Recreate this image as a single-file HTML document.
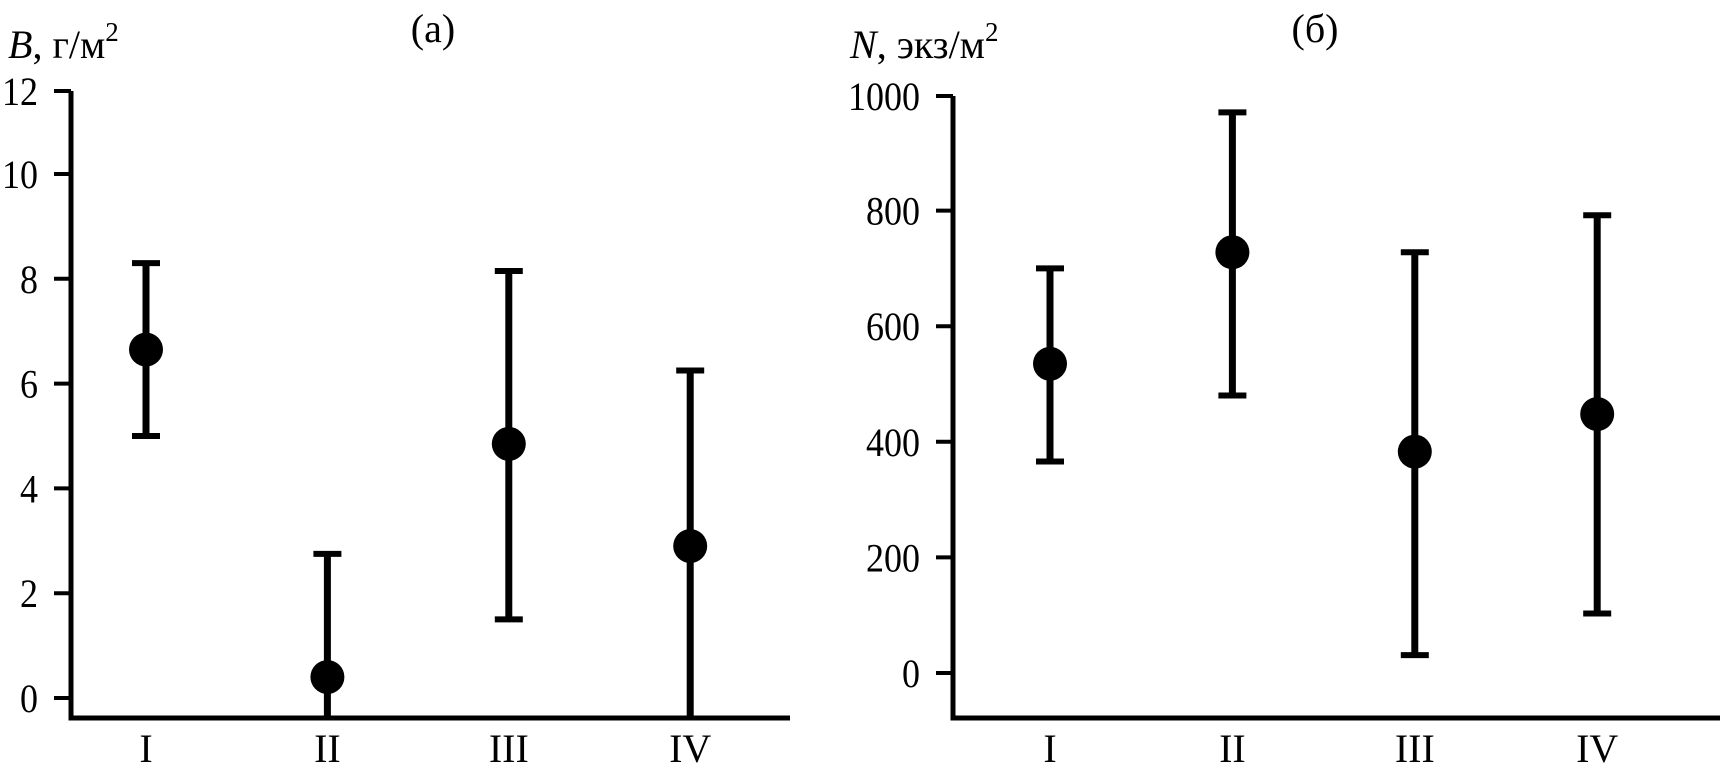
<!DOCTYPE html>
<html><head><meta charset="utf-8">
<style>
html,body{margin:0;padding:0;background:#fff;}
svg{display:block;font-family:"Liberation Serif","DejaVu Serif",serif;}
</style></head>
<body>
<svg id="chart" width="1720" height="776" viewBox="0 0 1720 776" xmlns="http://www.w3.org/2000/svg"></svg>
<script>
const categories = ["I","II","III","IV"];
const bMeans = [6.65, 0.4, 4.85, 2.9];
const bLow = [5.0, -0.4, 1.5, -0.4];
const bHigh = [8.3, 2.75, 8.15, 6.25];
const bTicks = [0, 2, 4, 6, 8, 10, 12];
const nMeans = [535, 728, 383, 448];
const nLow = [366, 480, 31, 103];
const nHigh = [700, 970, 728, 792];
const nTicks = [0, 200, 400, 600, 800, 1000];

const NS = "http://www.w3.org/2000/svg";
const svg = document.getElementById("chart");
function mk(tag, attrs, parent){
  const e = document.createElementNS(NS, tag);
  for (const k in attrs) e.setAttribute(k, attrs[k]);
  (parent||svg).appendChild(e);
  return e;
}

function panel(cfg){
  const g = mk("g", {});
  
  
  const y = v => cfg.y0 - v * cfg.ppu;
  const x = i => cfg.x0 + i * cfg.step;
  const ya = mk("line", {x1:cfg.ax, y1:cfg.axTop, x2:cfg.ax, y2:cfg.axBottom+2.5, stroke:"#000","stroke-width":5}, g);
  
  
  const xa = mk("line", {x1:cfg.ax-2.5, y1:cfg.axBottom, x2:cfg.axRight, y2:cfg.axBottom, stroke:"#000","stroke-width":5}, g);
  
  
  cfg.ticks.forEach(t => {
    const ty = Math.max(y(t), cfg.axTop);
    const tl = mk("line", {x1:cfg.ax-17, y1:ty, x2:cfg.ax, y2:ty, stroke:"#000","stroke-width":4}, g);
    
    
    const tx = mk("text", {x:0, y:0, "text-anchor":"end","font-size":40,
      transform:"translate(" + (cfg.ax-33) + "," + (ty+14) + ") scale(0.9,1)"}, g);
    tx.textContent = t;
    
    
  });
  categories.forEach((c, i) => {
    const cx = x(i);
    const loY = Math.min(y(cfg.low[i]), cfg.axBottom);
    const hiY = y(cfg.high[i]);
    const bar = mk("line", {x1:cx, y1:hiY, x2:cx, y2:loY, stroke:"#000","stroke-width":7}, g);
    
    
    const cap1 = mk("line", {x1:cx-14, y1:hiY, x2:cx+14, y2:hiY, stroke:"#000","stroke-width":6}, g);
    
    
    if (y(cfg.low[i]) < cfg.axBottom) {
      const cap2 = mk("line", {x1:cx-14, y1:loY, x2:cx+14, y2:loY, stroke:"#000","stroke-width":6}, g);
      
      
    }
    const pt = mk("circle", {cx:cx, cy:y(cfg.means[i]), r:17, fill:"#000"}, g);
    
    
    const lab = mk("text", {x:cx, y:762, "text-anchor":"middle","font-size":40}, g);
    lab.textContent = c;
    
    
  });
  const title = mk("text", {x:cfg.titleX, y:42, "text-anchor":"middle","font-size":40}, g);
  title.textContent = cfg.title;
  
  
  const yl = mk("text", {x:cfg.ylX, y:58, "font-size":40}, g);
  yl.innerHTML = '<tspan font-style="italic">' + cfg.ylVar + '</tspan>, ' + cfg.ylUnit + '<tspan font-size="27" dy="-17">2</tspan>';
  
  
}

panel({name:"panel-a-biomass", y0:698, ppu:52.4, x0:146, step:181.4, ax:71, axTop:91, axBottom:718, axRight:790,
  ticks:bTicks, means:bMeans, low:bLow, high:bHigh, title:"(a)", titleX:433, ylX:8, ylVar:"B", ylUnit:"г/м"});
panel({name:"panel-b-abundance", y0:673, ppu:0.578, x0:1050, step:182.4, ax:953, axTop:96, axBottom:718, axRight:1720,
  ticks:nTicks, means:nMeans, low:nLow, high:nHigh, title:"(б)", titleX:1315, ylX:850, ylVar:"N", ylUnit:"экз/м"});
</script>
</body></html>
